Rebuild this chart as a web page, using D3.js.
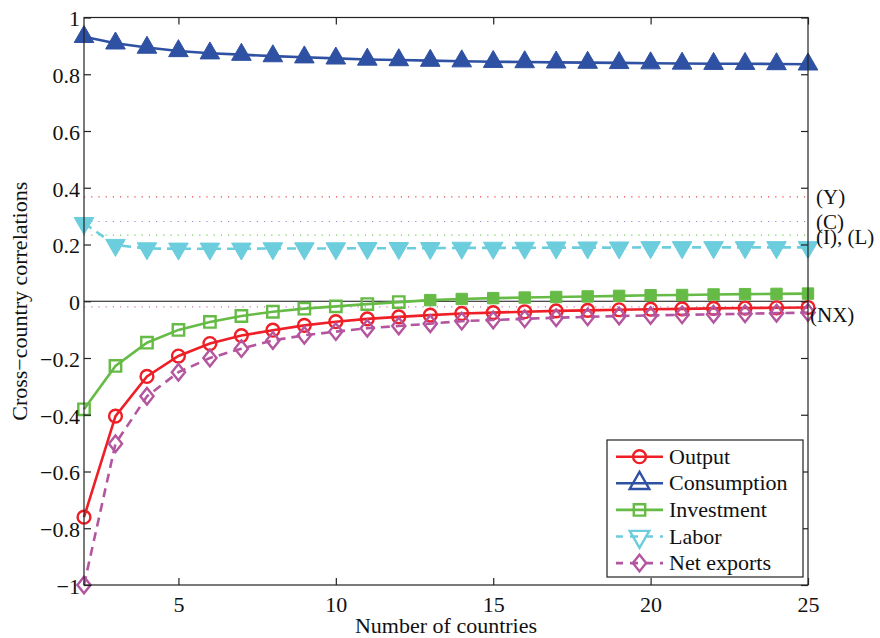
<!DOCTYPE html>
<html>
<head>
<meta charset="utf-8">
<script src="https://cdn.jsdelivr.net/npm/d3@7"></script>
<style>
  body { margin: 0; background: #fff; }
  svg { display: block; }
  text { font-family: "Liberation Serif", "Times New Roman", serif; fill: #111; }
</style>
</head>
<body>
<svg id="chart" width="880" height="638"></svg>
<script>
// ---------------- data ----------------
const countries = d3.range(2, 26);
const output = [-0.761, -0.405, -0.265, -0.193, -0.149, -0.121, -0.102, -0.085, -0.072, -0.062, -0.055, -0.049,
                -0.043, -0.040, -0.037, -0.034, -0.032, -0.030, -0.028, -0.027, -0.025, -0.024, -0.023, -0.022];
const consumption = [0.932, 0.909, 0.894, 0.882, 0.874, 0.869, 0.864, 0.860, 0.856, 0.852, 0.850, 0.848,
                     0.846, 0.844, 0.843, 0.842, 0.841, 0.840, 0.839, 0.838, 0.837, 0.837, 0.836, 0.835];
const investment = [-0.381, -0.228, -0.146, -0.101, -0.073, -0.052, -0.037, -0.026, -0.018, -0.010, -0.003, 0.004,
                    0.008, 0.011, 0.013, 0.015, 0.017, 0.019, 0.021, 0.022, 0.024, 0.025, 0.026, 0.027];
const labor = [0.275, 0.198, 0.186, 0.185, 0.185, 0.185, 0.186, 0.186, 0.186, 0.187, 0.187, 0.187,
               0.188, 0.188, 0.188, 0.189, 0.189, 0.189, 0.190, 0.190, 0.190, 0.190, 0.190, 0.190];
const netExports = [-1.0, -0.502, -0.335, -0.250, -0.200, -0.167, -0.138, -0.120, -0.107, -0.095, -0.087, -0.079,
                    -0.070, -0.066, -0.062, -0.058, -0.055, -0.052, -0.050, -0.048, -0.046, -0.044, -0.042, -0.040];
const refNames = ["(Y)", "(C)", "(I), (L)", "(NX)"];
const refValues = [0.368, 0.281, 0.233, -0.02];
const xTicks = [5, 10, 15, 20, 25];
const yTicks = [-1, -0.8, -0.6, -0.4, -0.2, 0, 0.2, 0.4, 0.6, 0.8, 1];
const xLabel = "Number of countries";
const yLabel = "Cross\u2212country correlations";

// ---------------- styles ----------------
const series = [
  {name: "Output", values: output, color: "#ee1f26", marker: "circle", dash: null},
  {name: "Consumption", values: consumption, color: "#2f51a3", marker: "up", dash: null},
  {name: "Investment", values: investment, color: "#66bb46", marker: "square", dash: null},
  {name: "Labor", values: labor, color: "#6ccddd", marker: "down", dash: "9,6"},
  {name: "Net exports", values: netExports, color: "#b4569f", marker: "diamond", dash: "9,6"}
];
const refColors = ["#ee4444", "#8090cc", "#77cc55", "#cc77bb"];

const svg = d3.select("#chart");
const M = {left: 84, right: 808, top: 17.5, bottom: 585};
const x = d3.scaleLinear().domain([2, 25]).range([M.left, M.right]);
const y = d3.scaleLinear().domain([-1, 1]).range([M.bottom, M.top]);

svg.append("rect").attr("width", 880).attr("height", 638).attr("fill", "#fff");

// reference dotted lines
refValues.forEach((v, i) => {
  svg.append("line")
    .attr("x1", M.left).attr("x2", M.right)
    .attr("y1", y(v)).attr("y2", y(v))
    .attr("stroke", refColors[i]).attr("stroke-width", 1.2)
    .attr("stroke-dasharray", "1.2,6");
});

// zero line
svg.append("line")
  .attr("x1", M.left).attr("x2", M.right)
  .attr("y1", y(0)).attr("y2", y(0))
  .attr("stroke", "#111").attr("stroke-width", 1.2);

// marker path generator
function markerPath(type) {
  switch (type) {
    case "circle": { const r = 6.4; return `M${-r},0A${r},${r} 0 1,0 ${r},0A${r},${r} 0 1,0 ${-r},0Z`; }
    case "square": { const s = 5.7; return `M${-s},${-s}H${s}V${s}H${-s}Z`; }
    case "diamond": return "M0,-8.3L6.6,0L0,8.3L-6.6,0Z";
    case "up": { const h = 17, w = 9.8; return `M0,${-2*h/3}L${w},${h/3}L${-w},${h/3}Z`; }
    case "down": { const h = 17, w = 9.8; return `M0,${2*h/3}L${w},${-h/3}L${-w},${-h/3}Z`; }
  }
}

const plot = svg.append("g");
const line = d3.line().x(d => x(d.x)).y(d => y(d.y));

series.forEach(s => {
  const pts = countries.map((c, i) => ({x: c, y: s.values[i]}));
  plot.append("path")
    .datum(pts)
    .attr("d", line)
    .attr("fill", "none")
    .attr("stroke", s.color)
    .attr("stroke-width", 2.6)
    .attr("stroke-dasharray", s.dash);
  plot.selectAll(null)
    .data(pts)
    .enter().append("path")
    .attr("transform", d => `translate(${x(d.x)},${y(d.y)})`)
    .attr("d", markerPath(s.marker))
    .attr("fill", d => d.y > 0 ? s.color : "none")
    .attr("stroke", s.color)
    .attr("stroke-width", d => d.y > 0 ? 1 : 2.4);
});

// axes box
const axisColor = "#222";
svg.append("rect")
  .attr("x", M.left).attr("y", M.top)
  .attr("width", M.right - M.left).attr("height", M.bottom - M.top)
  .attr("fill", "none").attr("stroke", axisColor).attr("stroke-width", 1.2);

const tl = 7;
const xAxisB = d3.axisBottom(x).tickValues(xTicks).tickSize(-tl).tickPadding(11).tickFormat(d3.format("d"));
const xAxisT = d3.axisTop(x).tickValues(xTicks).tickSize(-tl).tickFormat("");
const yFmt = d => d === 0 ? "0" : (d < 0 ? "\u2212" : "") + String(Math.abs(Math.round(d * 10) / 10));
const yAxisL = d3.axisLeft(y).tickValues(yTicks).tickSize(-tl).tickPadding(4).tickFormat(yFmt);
const yAxisR = d3.axisRight(y).tickValues(yTicks).tickSize(-tl).tickFormat("");

function styleAxis(g) {
  g.select(".domain").remove();
  g.selectAll(".tick line").attr("stroke", axisColor).attr("stroke-width", 1.2);
  g.selectAll(".tick text").style("font-family", "Liberation Serif, serif").style("font-size", "22px").attr("fill", "#111");
}
svg.append("g").attr("transform", `translate(0,${M.bottom})`).call(xAxisB).call(styleAxis);
svg.append("g").attr("transform", `translate(0,${M.top})`).call(xAxisT).call(styleAxis);
svg.append("g").attr("transform", `translate(${M.left},0)`).call(yAxisL).call(styleAxis)
  .selectAll(".tick text").attr("dy", "0.38em");
svg.append("g").attr("transform", `translate(${M.right},0)`).call(yAxisR).call(styleAxis);

// axis labels
svg.append("text")
  .attr("x", (M.left + M.right) / 2).attr("y", 633)
  .attr("text-anchor", "middle").style("font-size", "22px")
  .text(xLabel);
svg.append("text")
  .attr("transform", `translate(27,${(M.top + M.bottom) / 2}) rotate(-90)`)
  .attr("text-anchor", "middle").style("font-size", "22px")
  .text(yLabel);

// reference labels
const refLabelPos = [{dx: 8, dy: 7}, {dx: 8, dy: 7}, {dx: 8, dy: 9}, {dx: 2, dy: 15}];
refNames.forEach((n, i) => {
  svg.append("text")
    .attr("x", M.right + refLabelPos[i].dx)
    .attr("y", y(refValues[i]) + refLabelPos[i].dy)
    .style("font-size", "21px")
    .text(n);
});

// legend
const L = {x: 607, y: 440, w: 196, h: 137, row: 26.6, first: 456.7};
const lg = svg.append("g");
lg.append("rect").attr("x", L.x).attr("y", L.y).attr("width", L.w).attr("height", L.h)
  .attr("fill", "#fff").attr("stroke", axisColor).attr("stroke-width", 1.2);
series.forEach((s, i) => {
  const cy = L.first + i * L.row;
  lg.append("line").attr("x1", 616).attr("x2", 663).attr("y1", cy).attr("y2", cy)
    .attr("stroke", s.color).attr("stroke-width", 2.6)
    .attr("stroke-dasharray", s.dash ? "8,7" : null)
    .attr("stroke-dashoffset", s.dash ? 1 : null);
  lg.append("path").attr("transform", `translate(639.5,${cy})`).attr("d", markerPath(s.marker))
    .attr("fill", "none").attr("stroke", s.color).attr("stroke-width", 2.4);
  lg.append("text").attr("x", 669).attr("y", cy + 7).style("font-size", "22px").text(s.name);
});
</script>
</body>
</html>
